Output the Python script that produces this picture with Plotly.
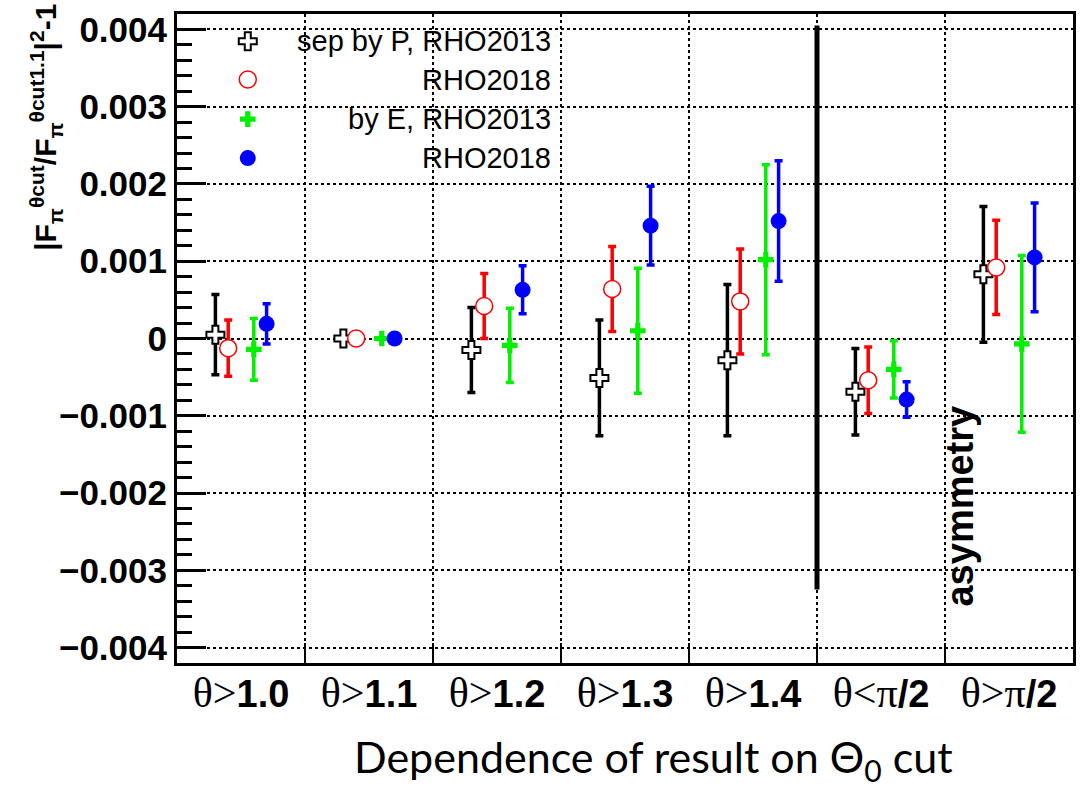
import plotly.graph_objects as go

# Cut labels: serif (symbol) part and bold numeric part
cut_symbols = ["θ&gt;", "θ&gt;", "θ&gt;", "θ&gt;", "θ&gt;", "θ&lt;π", "θ&gt;π"]
cut_values = ["1.0", "1.1", "1.2", "1.3", "1.4", "/2", "/2"]

series_names = ["sep by P, RHO2013", "RHO2018", "by E, RHO2013", "RHO2018"]

# |F^cut / F^cut1.1|^2 - 1 for each cut, with errors
p_rho2013_val = [0.05e-3, 0.0, -0.15e-3, -0.51e-3, -0.28e-3, -0.69e-3, 0.83e-3]
p_rho2013_err = [0.52e-3, 0.0, 0.55e-3, 0.75e-3, 0.98e-3, 0.56e-3, 0.88e-3]

p_rho2018_val = [-0.125e-3, 0.0, 0.42e-3, 0.64e-3, 0.48e-3, -0.54e-3, 0.92e-3]
p_rho2018_err = [0.365e-3, 0.0, 0.42e-3, 0.55e-3, 0.68e-3, 0.43e-3, 0.61e-3]

e_rho2013_val = [-0.14e-3, 0.0, -0.09e-3, 0.10e-3, 1.02e-3, -0.40e-3, -0.07e-3]
e_rho2013_err = [0.40e-3, 0.0, 0.48e-3, 0.81e-3, 1.23e-3, 0.37e-3, 1.145e-3]

e_rho2018_val = [0.19e-3, 0.0, 0.63e-3, 1.46e-3, 1.52e-3, -0.79e-3, 1.05e-3]
e_rho2018_err = [0.26e-3, 0.0, 0.31e-3, 0.51e-3, 0.78e-3, 0.23e-3, 0.705e-3]

# Separator between symmetric cuts and the asymmetry cuts (x edge, y top, y bottom)
separator = (5.5, 0.00405, -0.00325)

values = [p_rho2013_val, p_rho2018_val, e_rho2013_val, e_rho2018_val]
errors = [p_rho2013_err, p_rho2018_err, e_rho2013_err, e_rho2018_err]

offsets = [-0.2, -0.1, 0.1, 0.2]
GREEN = "#00f000"
styles = [
    dict(symbol="cross", size=15, color="white", line=dict(color="black", width=2), ecolor="black"),
    dict(symbol="circle", size=17, color="white", line=dict(color="red", width=1.5), ecolor="red"),
    dict(symbol="cross", size=13, color=GREEN, line=dict(width=0), ecolor=GREEN),
    dict(symbol="circle", size=16, color="blue", line=dict(width=0), ecolor="blue"),
]

n = len(cut_values)
centers = list(range(1, n + 1))
edges = [c + 0.5 for c in centers[:-1]]

tick_text = [
    "<span style='font-family:Liberation Serif;font-weight:normal;font-size:42px'>%s</span>%s" % (s, v)
    for s, v in zip(cut_symbols, cut_values)
]

fig = go.Figure()

# vertical separator
fig.add_trace(go.Scatter(
    x=[separator[0], separator[0]], y=[separator[1], separator[2]],
    mode="lines", line=dict(color="black", width=5),
    showlegend=False, hoverinfo="skip",
))

for name, vals, errs, off, st in zip(series_names, values, errors, offsets, styles):
    fig.add_trace(go.Scatter(
        x=[c + off for c in centers], y=vals, name=name, mode="markers",
        marker=dict(symbol=st["symbol"], size=st["size"], color=st["color"], line=st["line"]),
        error_y=dict(type="data", array=errs, color=st["ecolor"], thickness=3.5, width=4),
        showlegend=False,
    ))

# legend drawn inside the frame, text right-aligned
legend_y = [0.958, 0.899, 0.838, 0.778]
legend_marker_x = 0.079
legend_text_x = 0.42
for name, ly, st in zip(series_names, legend_y, styles):
    fig.add_trace(go.Scatter(
        x=[legend_marker_x], y=[ly], xaxis="x2", yaxis="y2", mode="markers",
        marker=dict(symbol=st["symbol"], size=st["size"], color=st["color"], line=st["line"]),
        showlegend=False, hoverinfo="skip",
    ))
    fig.add_annotation(
        x=legend_text_x, y=ly, xref="paper", yref="paper", text=name,
        showarrow=False, xanchor="right", yanchor="middle",
        font=dict(family="Liberation Sans", size=29, color="black"),
    )

# y-axis title
fig.add_annotation(
    x=-0.147, y=0.825, xref="paper", yref="paper",
    text="<b>|F<sub>π</sub><sup>θcut</sup>/F<sub>π</sub><sup>θcut1.1</sup>|<sup>2</sup>-1</b>",
    textangle=-90, showarrow=False, xanchor="center", yanchor="middle",
    font=dict(family="Liberation Sans", size=30, color="black"),
)

# x-axis title
fig.add_annotation(
    x=0.532, y=-0.148, xref="paper", yref="paper",
    text="Dependence of result on Θ<sub>0</sub> cut",
    showarrow=False, xanchor="center", yanchor="middle",
    font=dict(family="Lato", size=43, color="black"),
)

# asymmetry label
fig.add_annotation(
    x=6.62, y=-0.00217, xref="x", yref="y", text="<b>asymmetry</b>",
    textangle=-90, showarrow=False, xanchor="center", yanchor="middle",
    font=dict(family="Liberation Sans", size=38, color="black"),
)

fig.update_layout(
    width=1086, height=787,
    margin=dict(l=177, r=11, t=10, b=124),
    paper_bgcolor="white", plot_bgcolor="white",
    showlegend=False,
    xaxis=dict(
        range=[0.5, n + 0.5], tickmode="array", tickvals=centers, ticktext=tick_text,
        ticks="", showgrid=False, zeroline=False, ticklabelstandoff=-5,
        showline=True, linecolor="black", linewidth=3, mirror=True,
        tickfont=dict(family="Liberation Sans", size=38, color="black", weight="bold"),
        minor=dict(tickmode="array", tickvals=edges, ticks="inside", ticklen=20,
                   tickwidth=2, tickcolor="black", showgrid=True,
                   gridcolor="black", gridwidth=1.5, griddash="dot"),
    ),
    yaxis=dict(
        range=[-0.0042, 0.0042], tickmode="linear", tick0=0, dtick=0.001,
        ticks="inside", ticklen=29, tickwidth=3, tickcolor="black",
        showgrid=True, gridcolor="black", gridwidth=1.5, griddash="dot",
        zeroline=False, showline=True, linecolor="black", linewidth=3, mirror=True,
        tickfont=dict(family="Liberation Sans", size=35, color="black", weight="bold"),
        minor=dict(dtick=0.0002, ticks="inside", ticklen=15, tickwidth=3,
                   tickcolor="black", showgrid=False),
    ),
    xaxis2=dict(overlaying="x", range=[0, 1], visible=False, anchor="y2"),
    yaxis2=dict(overlaying="y", range=[0, 1], visible=False, anchor="x2"),
)

fig.write_html("out.html")
